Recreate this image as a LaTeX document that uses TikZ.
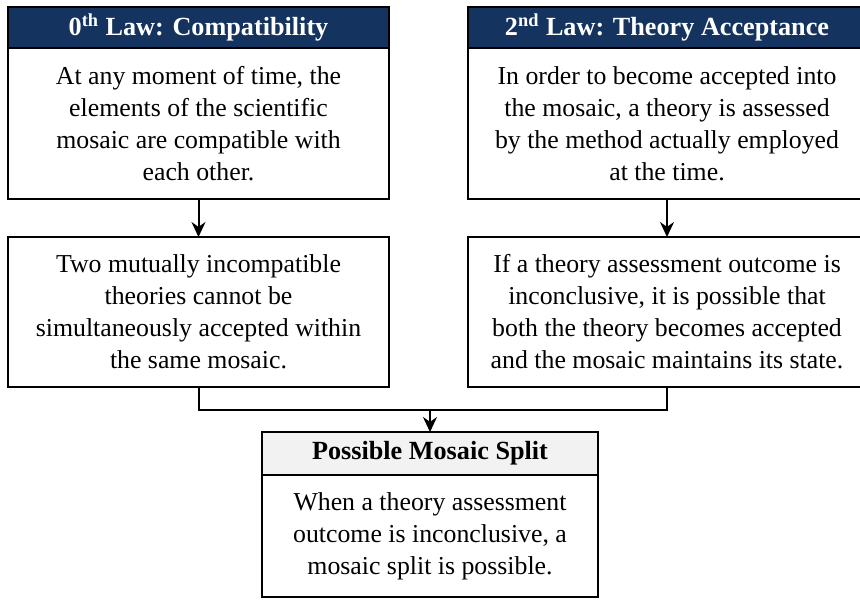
\documentclass[tikz,border=0pt]{standalone}
\usepackage{fontspec}
\setmainfont{Liberation Serif}
\usetikzlibrary{positioning,arrows.meta}

\definecolor{lawblue}{RGB}{20,51,94}
\definecolor{splitgray}{RGB}{242,242,242}

\tikzset{
	box/.style={draw, line width=1.3pt, inner sep=0pt, outer sep=0pt, align=center},
	lawhead/.style={box, fill=lawblue, text=white, minimum height=20.5pt, font=\bfseries\fontsize{13.1}{15}\selectfont},
	splithead/.style={box, fill=splitgray, minimum height=21.5pt, font=\bfseries\fontsize{13.1}{15}\selectfont},
	lawbody/.style={box, fill=white, font=\fontsize{12.9}{16}\selectfont},
	link/.style={line width=1pt, -{Stealth[length=7.5pt, width=7pt]}}
}

\begin{document}
\begin{tikzpicture}[x=0.5pt, y=-0.5pt]
	\useasboundingbox (0,0) rectangle (860,599);
	
	% ===== left column: 0th law =====
	\node[lawhead, anchor=north, minimum width=190.5pt] (zhead) at (198.5,7) {0\textsuperscript{th} Law: Compatibility};
	\node[lawbody, below=0pt of zhead, minimum width=190.5pt, minimum height=75.5pt] (zbody)
		{At any moment of time, the\\ elements of the scientific\\ mosaic are compatible with\\ each other.};
	\node[lawbody, below=19pt of zbody, minimum width=190.5pt, minimum height=75pt] (zcons)
		{Two mutually incompatible\\ theories cannot be\\ simultaneously accepted within\\ the same mosaic.};
	
	% ===== right column: 2nd law =====
	\node[lawhead, anchor=north, minimum width=199pt] (shead) at (667,7) {2\textsuperscript{nd} Law: Theory Acceptance};
	\node[lawbody, below=0pt of shead, minimum width=199pt, minimum height=75.5pt] (sbody)
		{In order to become accepted into\\ the mosaic, a theory is assessed\\ by the method actually employed\\ at the time.};
	\node[lawbody, below=19pt of sbody, minimum width=199pt, minimum height=75pt] (scons)
		{If a theory assessment outcome is\\ inconclusive, it is possible that\\ both the theory becomes accepted\\ and the mosaic maintains its state.};
	
	% ===== bottom: the split =====
	\node[splithead, anchor=north, minimum width=168pt] (mhead) at (430,432) {Possible Mosaic Split};
	\node[lawbody, below=0pt of mhead, minimum width=168pt, minimum height=61pt] (mbody)
		{When a theory assessment\\ outcome is inconclusive, a\\ mosaic split is possible.};
	
	% connectors
	\coordinate (join) at (430,410);
	\draw[link] (zbody) -- (zcons);
	\draw[link] (sbody) -- (scons);
	\draw[line width=1pt] (zcons.south) |- (join) -| (scons.south);
	\draw[link] (join) -- (mhead);
\end{tikzpicture}
\end{document}
